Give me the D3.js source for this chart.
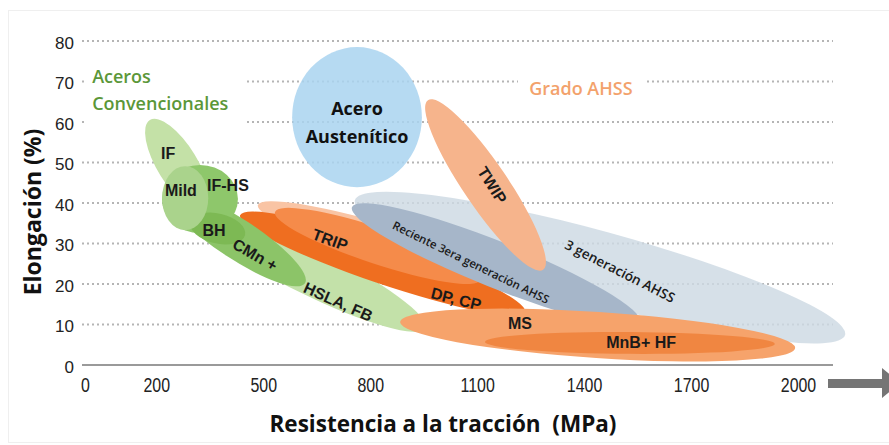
<!DOCTYPE html>
<html>
<head>
<meta charset="utf-8">
<script src="https://cdn.jsdelivr.net/npm/d3@7"></script>
<style>
body{margin:0;background:#fff}
svg{display:block}
</style>
</head>
<body>
<div id="chart"></div>
<script>
// steel families, tensile strength (MPa) / elongation (%) ranges
var families    = ['HSLA FB','TRIP halo','DP CP','TRIP','3G AHSS','Reciente 3G','TWIP','Austenitico','CMn','IF','IF-HS','BH','Mild','MS','MnB HF'];
var mpaFrom     = [309, 485, 435, 533, 757, 749, 962, 581, 238, 182, 216, 295, 281, 884, 1122];
var mpaTo       = [954, 1276,1234,1108,2132,1557,1285,945, 617, 337, 429, 449, 281, 1992,1935];
var elongFrom   = [37,  39.5,37,  37.8,40.7,39,  65.4,61.2,42,  60.5,41,  35.3,49.1,10.6,5.7];
var elongTo     = [9.1, 18.5,13.1,21,  7.4, 10.6,23.5,61.2,20.2,38.3,41,  32.1,33.3,4.2, 5.2];
var elongSpread = [11.4,9.4, 9.9, 8.9, 17.8,11.4,10.9,34.6,9.9, 9.9, 16.8,7.4, 11.4,11.4,5.4];

var xTicks = [0,200,500,800,1100,1400,1700,2000];
var yTicks = [0,10,20,30,40,50,60,70,80];

var labelText  = ['IF','Mild','IF-HS','BH','CMn +','HSLA, FB','TRIP','DP, CP','Reciente 3era generación AHSS','3 generación AHSS','TWIP','MS','MnB+ HF'];
var labelMpa   = [233, 269, 401, 362, 477, 710, 687, 1041,1083,1501,1142,1220,1560];
var labelElong = [52.1,43.2,44.4,33.3,27.2,15.6,30.9,16.3,25.4,23.2,44.4,10.2,5.6];

// styles
var colors = {
	'3G AHSS':'#cdd9e3','Reciente 3G':'#a6b6c9','TWIP':'#f6b48c','Austenitico':'#a9d3f0',
	'HSLA FB':'#c3e1a9','TRIP halo':'#f9c4a4','DP CP':'#ef6e20','TRIP':'#f58b4a',
	'CMn':'#8cc468','IF':'#c4e1a7','IF-HS':'#8ec76b','BH':'#7db954','Mild':'#aad38c',
	'MS':'#f6a36b','MnB HF':'#f08641'
};
var opac = {'3G AHSS':0.82,'Austenitico':0.85};
var labelRot = {'CMn +':30,'HSLA, FB':24,'TRIP':20,'DP, CP':14,'Reciente 3era generación AHSS':26,'3 generación AHSS':27,'TWIP':58};

var W = 889, H = 445;
var svg = d3.select('#chart').append('svg')
	.attr('width',W)
	.attr('height',H);

var x = d3.scaleLinear().domain([0,2000]).range([85,798]);
var y = d3.scaleLinear().domain([0,80]).range([365,41]);
var gridX0 = 82, gridX1 = 833;

// faint frame
svg.append('rect')
	.attr('x',8.5).attr('y',10.5)
	.attr('width',W).attr('height',432)
	.attr('fill','none').attr('stroke','#efefef');

// dotted grid
var grid = svg.append('g');
grid.selectAll('line')
	.data(yTicks.filter(function(d){ return d>0; }))
	.enter().append('line')
	.attr('x1',gridX0).attr('x2',gridX1)
	.attr('y1',function(d){ return y(d); })
	.attr('y2',function(d){ return y(d); })
	.attr('stroke','#b5b5b5')
	.attr('stroke-width',2)
	.attr('stroke-dasharray','2,3');

// white boxes behind group titles knock out the grid
svg.append('rect').attr('x',86).attr('y',62).attr('width',158).attr('height',64).attr('fill','#fff');
svg.append('rect').attr('x',518).attr('y',70).attr('width',129).attr('height',36).attr('fill','#fff');

// ellipses
var regions = families.map(function(f,i){
	var x1 = x(mpaFrom[i]), y1 = y(elongFrom[i]), x2 = x(mpaTo[i]), y2 = y(elongTo[i]);
	return {
		name:f,
		cx:(x1+x2)/2, cy:(y1+y2)/2,
		rx:Math.max(Math.hypot(x2-x1,y2-y1)/2,1),
		ry:(y(0)-y(elongSpread[i]))/2,
		ang:Math.atan2(y2-y1,x2-x1)*180/Math.PI
	};
});
svg.append('g').selectAll('ellipse')
	.data(regions)
	.enter().append('ellipse')
	.attr('transform',function(d){ return 'translate('+d.cx+','+d.cy+') rotate('+d.ang+')'; })
	.attr('rx',function(d){ return d.rx; })
	.attr('ry',function(d){ return d.ry; })
	.attr('fill',function(d){ return colors[d.name]; })
	.attr('opacity',function(d){ return opac[d.name] || 1; });

// baseline
svg.append('line')
	.attr('x1',gridX0).attr('x2',gridX1)
	.attr('y1',y(0)).attr('y2',y(0))
	.attr('stroke','#9a9a9a').attr('stroke-width',2);

// axes
var xAxis = svg.append('g')
	.attr('transform','translate(0,'+y(0)+')')
	.call(d3.axisBottom(x).tickValues(xTicks).tickFormat(d3.format('d')).tickSize(0).tickPadding(0));
xAxis.select('.domain').remove();
xAxis.selectAll('text')
	.attr('y',27)
	.attr('dy',0)
	.attr('transform','scale(0.76,1)')
	.style('font-family','"Liberation Sans", Arial, sans-serif')
	.style('font-size','21px')
	.attr('fill','#222');

var yAxis = svg.append('g')
	.attr('transform','translate(74,0)')
	.call(d3.axisLeft(y).tickValues(yTicks).tickSize(0).tickPadding(0));
yAxis.select('.domain').remove();
yAxis.selectAll('text')
	.attr('dy','0.42em')
	.style('font-family','"Liberation Sans", Arial, sans-serif')
	.style('font-size','17px')
	.attr('fill','#222');

// arrow
svg.append('path')
	.attr('d','M828,379 L882,379 L882,368 L900,383 L882,398 L882,388 L828,388 Z')
	.attr('fill','#757575');

// axis titles
svg.append('text')
	.attr('x',443).attr('y',432)
	.attr('text-anchor','middle')
	.attr('textLength',347)
	.attr('lengthAdjust','spacingAndGlyphs')
	.style('white-space','pre')
	.style('font-family','"Open Sans", sans-serif')
	.style('font-weight',700)
	.style('font-size','23px')
	.attr('fill','#111')
	.text('Resistencia a la tracción  (MPa)');

svg.append('text')
	.attr('transform','translate(41,212) rotate(-90)')
	.attr('text-anchor','middle')
	.style('font-family','"Open Sans", sans-serif')
	.style('font-weight',700)
	.style('font-size','23px')
	.attr('fill','#111')
	.text('Elongación (%)');

// group titles
var titleFont = '"Open Sans", sans-serif';
svg.append('text').attr('x',x(20)).attr('y',y(71.4)).attr('dominant-baseline','central')
	.style('font-family',titleFont).style('font-weight',600).style('font-size','18px')
	.attr('fill','#5b9738').text('Aceros');
svg.append('text').attr('x',x(20)).attr('y',y(64.7)).attr('dominant-baseline','central')
	.style('font-family',titleFont).style('font-weight',600).style('font-size','18px')
	.attr('fill','#5b9738').text('Convencionales');
svg.append('text').attr('x',x(1391)).attr('y',y(68.4)).attr('dominant-baseline','central')
	.attr('text-anchor','middle')
	.style('font-family',titleFont).style('font-weight',600).style('font-size','18px')
	.attr('fill','#f3a26c').text('Grado AHSS');

svg.append('text').attr('x',x(763)).attr('y',y(63.5)).attr('dominant-baseline','central')
	.attr('text-anchor','middle')
	.style('font-family',titleFont).style('font-weight',700).style('font-size','18px')
	.attr('fill','#111').text('Acero');
svg.append('text').attr('x',x(763)).attr('y',y(56.5)).attr('dominant-baseline','central')
	.attr('text-anchor','middle')
	.style('font-family',titleFont).style('font-weight',700).style('font-size','18px')
	.attr('fill','#111').text('Austenítico');

// region labels
svg.append('g').selectAll('text')
	.data(labelText)
	.enter().append('text')
	.attr('transform',function(d,i){
		return 'translate('+x(labelMpa[i])+','+y(labelElong[i])+') rotate('+(labelRot[d]||0)+')';
	})
	.attr('text-anchor','middle')
	.attr('dominant-baseline','central')
	.style('font-family',function(d){
		return d.indexOf('generación')>=0 ? titleFont : '"Liberation Sans", Arial, sans-serif';
	})
	.style('font-weight',function(d){ return d.indexOf('generación')>=0 ? 600 : 700; })
	.style('font-size',function(d){
		if(d=='Reciente 3era generación AHSS') return '11.5px';
		if(d=='3 generación AHSS') return '13.5px';
		return '16px';
	})
	.attr('fill','#1a1a1a')
	.text(function(d){ return d; });
</script>
</body>
</html>
